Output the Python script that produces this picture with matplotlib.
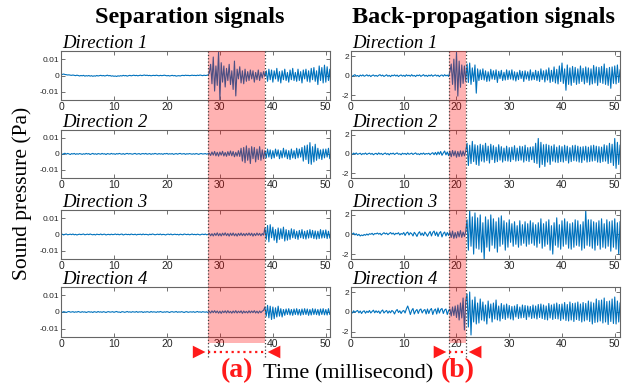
import numpy as np
import matplotlib.pyplot as plt
from matplotlib.patches import Rectangle, FancyArrowPatch
from matplotlib.lines import Line2D

plt.rcParams['axes.unicode_minus'] = False

# sample spacing in milliseconds
dt = 0.25

# separation signals, in units of 1e-4 Pa
sep_dir1 = [5, 8, 10, 7, 6, 4, 5, 3, 2, 4, 2, 0, 3, 1, -2, 1, -1, 2, -3, 0,
            -2, 1, -3, 0, -4, -1, -3, 1, -2, 0, 2, -1, 1, -2, 0, 3, -1, 1, -3, -1,
            -4, -2, -5, -1, -3, 0, -2, 2, -1, 1, -3, 0, 2, -1, 1, 3, 0, 2, -1, 1,
            3, 0, 2, 4, 1, 3, 0, 2, -1, 1, 2, 0, 3, 1, -1, 2, 0, 1, 3, 1,
            -1, 1, -2, 0, 2, -1, 1, -3, -1, 0, -2, 1, 2, 0, 3, 1, 2, 0, 1, 3,
            1, 2, 0, 3, 1, 4, 2, 0, 3, 1, 2, 4, 15, 70, -50, 115, -95, 60, -60, 150,
            -150, 80, -40, 60, -70, 45, -30, 70, -55, 30, -85, 90, -125, 40, -20, 55, -45, 30, -50, 40,
            -35, 25, -30, 35, -20, 30, -40, 20, -25, 35, -30, 20, -15, 25, -5, 30, -35, 40, -25, 35,
            -40, 30, -20, 45, -35, 25, -45, 30, -25, 40, -30, 20, -40, 35, -25, 45, -30, 20, -35, 40,
            -30, 25, -45, 35, -20, 40, -35, 30, -40, 45, -25, 50, -35, 30, -55, 60, -30, 50, -45, 65,
            -40, 55, -30, 40, -110]
sep_dir2 = [2, -3, 1, 4, -2, 3, 0, -4, 2, -1, 3, -3, 1, -2, 2, 0, -3, 1, -2, 3,
            -1, 2, -4, 0, 3, -2, 1, -3, 2, 0, -2, 3, -1, 1, -4, 2, 0, -2, 3, -1,
            1, -3, 2, -1, 3, 0, -2, 2, -3, 1, 3, -1, 2, 0, -2, 1, 3, -2, 0, 2,
            -3, 1, 2, -1, 3, -2, 0, 2, -3, 1, -1, 3, 0, -2, 2, -1, 1, -3, 2, 0,
            3, -2, 1, -1, 2, -3, 0, 2, -2, 1, 3, -1, 0, 2, -3, 1, -1, 2, 0, -2,
            1, -2, 2, 0, -3, 1, 2, -1, 0, 2, -2, 1, 5, -10, 12, -8, 15, -12, 10, -14,
            12, -8, 16, -13, 9, -15, 14, -10, 18, -12, 15, -18, 10, -14, 20, -16, 35, -45, 40, -55,
            50, -40, 35, -60, 45, -30, 40, -50, 30, -35, 45, -40, 25, -30, 20, -25, 30, -20, 25, -30,
            20, -25, 30, -15, 25, -30, 20, -25, 35, -20, 25, -30, 20, -35, 30, -25, 20, -30, 35, -25,
            30, -20, 40, -45, 50, -35, 55, -60, 70, -65, 45, -50, 60, -40, 35, -30, 25, -35, 30, -25,
            30, -20, 35, -30, 25]
sep_dir3 = [-1, 2, -3, 1, 3, -2, 0, 2, -1, 3, -2, 1, -3, 0, 2, -1, 1, 3, -2, 0,
            2, -1, 3, 0, -2, 1, -3, 2, 0, -1, 3, -2, 1, 2, -3, 0, 1, -2, 2, -1,
            0, 3, -1, 2, -2, 1, 3, -3, 0, 2, -1, 1, -2, 3, 0, -1, 2, -3, 1, 0,
            2, -2, 3, -1, 1, 0, -3, 2, -1, 3, 1, -2, 0, 2, -1, 3, -2, 1, 0, -3,
            1, 2, -1, 3, -2, 0, 2, -1, 1, -3, 2, 0, -2, 3, 1, -1, 2, -2, 0, 3,
            -1, 1, -2, 2, 0, -3, 1, 2, -1, 3, -2, 0, 6, -8, 5, -9, 7, -6, 10, -8,
            6, -9, 8, -5, 10, -7, 6, -10, 8, -6, 9, -8, 5, -10, 7, -6, 9, -7, 6, -8,
            7, -5, 9, -6, 8, -10, 6, -7, 9, -5, 7, -8, 6, -4, 40, -30, 55, -45, 60, -20,
            45, -35, 30, -50, 40, -30, 35, -25, 45, -40, 30, -35, 25, -30, 35, -20, 30, -25, 20, -30,
            25, -20, 30, -25, 20, -28, 25, -22, 30, -20, 25, -25, 22, -28, 20, -25, 30, -22, 25, -20,
            28, -25, 20, -22, 25]
sep_dir4 = [1, -2, 2, 0, -3, 1, 3, -1, 0, 2, -2, 1, -1, 3, 0, -2, 2, -1, 1, -3,
            0, 2, -1, 1, -3, 2, 0, -2, 3, -1, 1, -2, 2, 0, -3, 1, 2, -1, 0, 2,
            -2, 1, 3, -1, 0, -3, 2, 1, -2, 0, 3, -1, 1, -2, 2, 0, -1, 3, -2, 1,
            0, 2, -3, 1, -1, 2, 0, -2, 3, -1, 1, 0, -2, 2, -1, 3, 0, -2, 1, -1,
            2, 0, -3, 1, 2, -1, 0, 3, -2, 1, -1, 2, 0, -3, 1, 2, -2, 0, 1, -1,
            2, -2, 0, 3, -1, 1, -2, 2, 0, -1, 1, -3, 4, -6, 7, -4, 8, -5, 6, -7,
            5, -8, 6, -4, 7, -6, 8, -5, 4, -7, 6, -5, 8, -6, 5, -4, 7, -8, 6, -5,
            4, -6, 7, -5, 6, -4, 8, -6, 5, -7, 6, -4, 5, 10, 30, -25, 40, -35, 35, -45,
            30, -40, 25, -30, 35, -25, 20, -30, 15, -20, 18, -15, 20, -18, 15, -20, 18, -15, 20, -18,
            15, -20, 18, -16, 20, -15, 18, -20, 15, -18, 20, -15, 18, -16, 15, -20, 18, -15, 20, -17,
            15, -18, 20, -15, 18]

# back-propagation signals, in units of 0.01 Pa
bp_dir1 = [5, -8, 3, 10, -5, 2, -10, 6, -3, 8, -6, 0, 9, -4, 5, -9, 2, 7, -5, 3,
           -7, 4, 10, -3, 6, -8, 1, 9, -6, 3, -10, 5, -2, 8, -4, 6, -9, 2, 7, -5,
           4, -8, 9, -2, 5, -6, 10, -4, 3, -9, 6, -1, 8, -7, 2, 10, -5, 4, -8, 6,
           -3, 9, -6, 2, 8, -4, 5, -10, 3, 7, -6, 10, -2, 6, -8,
           40, 120, -90, 170, -150, 240, -210, 150, -120, 110, -80, 100, -60,
           120, -70, 130, -90, 80, -60, 110, -180, 70, -50, 60, -40,
           70, -45, 50, -60, 40, -55, 65, -35, 50, -40, 60, -70, 45, -30, 55, -50, 35, -45, 60, -40,
           50, -35, 60, -45, 40, -55, 35, -40, 55, -30, 45, -60, 50, -35, 40, -50, 60, -45, 35, -40,
           55, -50, 45, -60, 70, -40, 50, -65, 60, -45, 80, -70, 55, -60, 90, -75, 65, -85, 100, -60,
           130, -80, 70, -150, 110, -90, 80, -100, 95, -70, 85, -90, 70, -80, 100, -60, 75, -85, 90, -70,
           80, -95, 70, -85, 105, -75, 90, -100, 85, -70, 95, -80, 120, -90, 75, -100, 85, -130, 90, -80,
           100, -85, 110, -70, 60]
bp_dir2 = [3, -6, 8, -2, 10, -5, 1, 7, -8, 4, -3, 9, -6, 2, 8, -4, 5, -9, 1, 6,
           -7, 10, -3, 5, -8, 2, 9, -5, 4, -10, 6, -1, 8, -6, 3, 10, -4, 2, -9, 7,
           -2, 5, -7, 9, -4, 1, 8, -6, 3, 10, -5, 2, -8, 6, -3, 9, -6, 4, -1, 7,
           -9, 5, 12, -8, 15, -10, 20, -5, 25, -15, 10, 30, -10, 20, -18,
           25, -30, 35, -20, 30, -35, 25, -28, 32, -25, 30, -20, 28,
           110, -120, 90, -100, 130, -80, 95, -110, 85, -120, 100, -75,
           90, -85, 110, -70, 80, -95, 100, -60, 85, -90, 70, -80, 95, -65, 75, -85, 60, -70, 80, -75,
           65, -80, 70, -60, 85, -75, 60, -70, 80, -65, 75, -85, 90, -70, 65, -80, 70, -60, 75, -90,
           110, -100, 160, -140, 120, -110, 95, -130, 100, -85, 90, -110, 80, -75, 95, -85, 70, -90, 85, -80,
           75, -85, 90, -70, 80, -95, 65, -80, 85, -70, 90, -75, 80, -85, 70, -90, 75, -65, 80, -85,
           70, -80, 85, -75, 90, -70, 80, -85, 75, -90, 70, -80, 95, -75, 85, -100, 110, -90, 100, -120,
           160, -150, 120, -110, 90]
bp_dir3 = [10, 5, 15, -5, 8, -10, 2, -15, -5, -12, 0, -8, 5, -6, 8, 2, 12, -4, 10, 6,
           15, 3, 12, -5, 8, 18, 5, 14, -2, 10, 20, 4, 15, -3, 12, 6, 18, -5, 10, 2,
           20, -10, 15, 25, -5, 18, 8, -15, 22, 5, -20, 12, 28, -8, 15, -12, 25, 5, -18, 10,
           30, -15, 20, 35, -10, 25, -20, 15, 30, -25, 10, 25, -15, 20, -10,
           25, -30, 35, -40, 20, -35, 30, -25, 40, -30, 25, -20, 30,
           150, -160, 250, -120, 180, -200, 220, -140, 170, -150, 200, -180,
           120, -260, 180, -130, 150, -170, 200, -110, 160, -140, 130, -180, 170, -120, 190, -100, 140, -160, 120, -130,
           150, -80, 110, -120, 130, -100, 90, -130, 140, -110, 100, -90, 130, -120, 110, -100, 140, -90, 120, -110,
           100, -130, 120, -90, 160, -140, 110, -120, 130, -100, 150, -160, 90, -200, 120, -110, 170, -130, 100, -150,
           140, -120, 160, -100, 130, -140, 110, -150, 120, -130, 150, -110, 140, -120, 100, -160, 130, -140, 250, -110,
           150, -120, 150, -140, 130, -160, 120, -110, 140, -150, 160, -130, 110, -140, 150, -120, 130, -170, 140, -130,
           160, -150, 120, -200, 130]
bp_dir4 = [5, -10, 12, -5, 8, 15, -8, 10, -15, 5, 12, -12, 8, -5, 15, -10, 5, 18, -8, 12,
           -5, 10, -15, 8, 20, -10, 5, 15, -12, 10, -8, 15, 5, -20, 10, 25, -5, 12, -15, 8,
           15, -10, 30, 60, 20, -25, 15, 35, -20, 10, 25, -15, 20, 30, -10, 15, 25, -20, 30, -15,
           20, 35, -25, 15, 30, -20, 40, -10, 25, 35, -15, 20, 30, -25, 15,
           30, -40, 50, -35, 60, -55, 70, -80, 90, -60, 140, -180, 110,
           180, -150, 200, -230, 120, -100, 150, -120, 90, -110, 130, -80,
           100, -90, 70, -120, 110, -60, 80, -100, 90, -70, 120, -80, 60, -90, 85, -65, 70, -75, 80, -60,
           65, -70, 55, -80, 60, -50, 75, -65, 50, -60, 70, -55, 65, -75, 60, -50, 55, -65, 70, -60,
           60, -70, 75, -55, 80, -65, 70, -75, 60, -80, 85, -60, 70, -75, 80, -65, 90, -70, 75, -85,
           80, -70, 95, -85, 75, -90, 100, -80, 85, -95, 90, -75, 100, -85, 80, -100, 95, -90, 85, -80,
           110, -95, 100, -120, 90, -105, 130, -100, 115, -90, 120, -110, 140, -100, 105, -125, 110, -95, 130, -115,
           150, -120, 110, -100, 90]

directions = ['Direction 1', 'Direction 2', 'Direction 3', 'Direction 4']
xticks = [0, 10, 20, 30, 40, 50]

# time windows marked (a) and (b), ms
region_a = (27.8, 38.5)
region_b = (18.6, 21.8)

blue = '#0072BD'
serif = 'Liberation Serif'
sans = 'Liberation Sans'

fig = plt.figure(figsize=(6.33, 3.89), dpi=100)

rows = [(0.743, 0.125), (0.5424, 0.124), (0.3342, 0.126), (0.1337, 0.1285)]
columns = [
    (0.0964, [sep_dir1, sep_dir2, sep_dir3, sep_dir4], 1e-4, 0.015, [-0.01, 0, 0.01], ['-0.01', '0', '0.01'], 50.8),
    (0.5545, [bp_dir1, bp_dir2, bp_dir3, bp_dir4], 1e-2, 2.5, [-2, 0, 2], ['-2', '0', '2'], 51.0),
]

axes = []
for left, signals, scale, ymax, yt, ytl, xmax in columns:
    col = []
    for (bottom, height), sig, name in zip(rows, signals, directions):
        ax = fig.add_axes([left, bottom, 0.425, height])
        y = np.array(sig) * scale
        t = np.arange(len(y)) * dt
        ax.plot(t, y, color=blue, lw=0.8)
        ax.set_xlim(0, xmax)
        ax.set_ylim(-ymax, ymax)
        ax.set_xticks(xticks)
        ax.set_xticklabels([str(v) for v in xticks], fontfamily=sans, fontsize=7.5, color='0.15')
        ax.set_yticks(yt)
        ax.set_yticklabels(ytl, fontfamily=sans, fontsize=6, color='0.15')
        ax.tick_params(direction='in', length=3, width=0.6, top=True, right=True, pad=1.5, color='0.35')
        for s in ax.spines.values():
            s.set_color('0.4')
            s.set_linewidth(0.8)
        ax.text(0.005, 1.06, name, transform=ax.transAxes, fontfamily=serif, style='italic',
                fontsize=13.5, va='baseline', ha='left')
        col.append(ax)
    axes.append(col)

fig.text(0.300, 0.941, 'Separation signals', fontfamily=serif, fontweight='bold', fontsize=17.5, ha='center')
fig.text(0.764, 0.941, 'Back-propagation signals', fontfamily=serif, fontweight='bold', fontsize=17.5, ha='center')
fig.text(0.035, 0.504, 'Sound pressure (Pa)', fontfamily=serif, fontsize=15.5, rotation=90, ha='center', va='center')
fig.text(0.55, 0.028, 'Time (millisecond)', fontfamily=serif, fontsize=16, ha='center', va='baseline')

# shaded windows spanning all four rows
inv = fig.transFigure.inverted()
top = axes[0][0].get_position().y1
shade_bottom = 1 - 343 / 389
dot_bottom = 1 - 357 / 389
arrow_y = 1 - 352 / 389
red = '#ff1a1a'
for col, (x0, x1), label in [(axes[0], region_a, '(a)'), (axes[1], region_b, '(b)')]:
    to_fig = col[0].transData + inv
    fx0 = to_fig.transform((x0, 0))[0]
    fx1 = to_fig.transform((x1, 0))[0]
    fig.add_artist(Rectangle((fx0, shade_bottom), fx1 - fx0, top - shade_bottom,
                             transform=fig.transFigure, facecolor='red', alpha=0.3, edgecolor='none'))
    for fx in (fx0, fx1):
        fig.add_artist(Line2D([fx, fx], [dot_bottom, top], transform=fig.transFigure,
                              color='0.25', lw=0.9, ls=':'))
    fig.add_artist(Line2D([fx0, fx1], [arrow_y, arrow_y], transform=fig.transFigure,
                          color=red, lw=1.6, ls=':'))
    head = 13 / 633
    fig.add_artist(FancyArrowPatch((fx0 - head, arrow_y), (fx0, arrow_y), transform=fig.transFigure,
                                   arrowstyle='-|>,head_length=0.7,head_width=0.35',
                                   mutation_scale=13, color=red, lw=0))
    fig.add_artist(FancyArrowPatch((fx1 + head, arrow_y), (fx1, arrow_y), transform=fig.transFigure,
                                   arrowstyle='-|>,head_length=0.7,head_width=0.35',
                                   mutation_scale=13, color=red, lw=0))
    fig.text((fx0 + fx1) / 2, 0.03, label, fontfamily=serif, fontweight='bold', fontsize=20,
             color=red, ha='center', va='baseline')

fig.savefig('out.png', dpi=100)
